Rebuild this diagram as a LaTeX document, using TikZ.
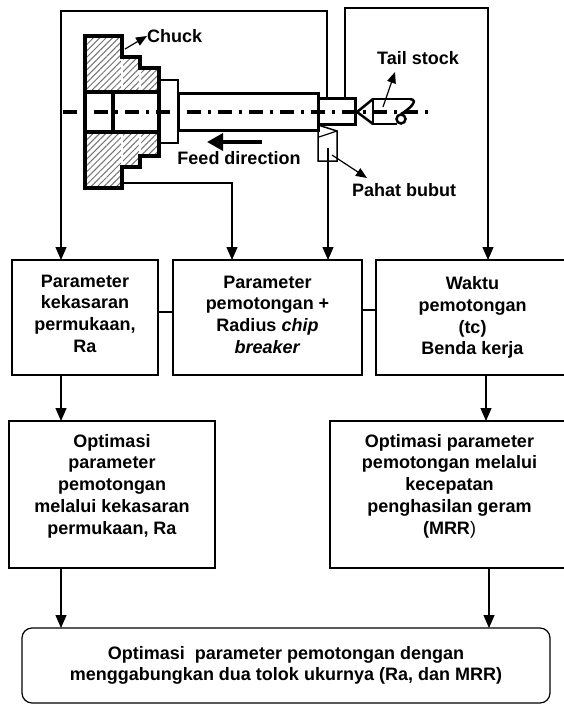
\documentclass[tikz,border=0pt]{standalone}
\usepackage{fontspec}
\setmainfont{Liberation Sans}
\usetikzlibrary{arrows.meta,patterns.meta}
\begin{document}
\begin{tikzpicture}[x=1pt,y=-1pt,
  box/.style={draw,line width=1.2pt,inner sep=0pt,outer sep=0pt,align=center,font=\fontsize{18}{21.7}\selectfont\bfseries},
  txt/.style={inner sep=0pt,align=center,font=\fontsize{18}{21.7}\selectfont\bfseries},
  lbl/.style={inner sep=0pt,font=\fontsize{18}{21.7}\selectfont\bfseries},
  conn/.style={line width=1.2pt},
  arr/.style={line width=1.2pt,-{Triangle[length=13pt,width=11pt]}},
  ptr/.style={line width=1.2pt,-{Triangle[length=11pt,width=9pt]}},
  hatch/.style={pattern={Lines[angle=45,distance=4.5pt,line width=1pt]},pattern color=black!55},
  heavy/.style={line width=3.5pt,line join=miter},
]
\useasboundingbox (0,0) rectangle (564,704);
\clip (0,0) rectangle (564,704);

% chuck
\fill[hatch] (85,36) -- (122,36) -- (122,57) -- (140,57) -- (140,68) -- (159,68) -- (159,92) -- (85,92) -- cycle;
\fill[hatch] (85,132) -- (159,132) -- (159,156) -- (140,156) -- (140,167) -- (122,167) -- (122,188) -- (85,188) -- cycle;
\draw[white,line width=1.5pt] (122,57) -- (122,92) (140,68) -- (140,92) (122,132) -- (122,167) (140,132) -- (140,156);
\draw[heavy] (85,36) -- (122,36) -- (122,57) -- (140,57) -- (140,68) -- (159,68) -- (159,156) -- (140,156) -- (140,167) -- (122,167) -- (122,188) -- (85,188) -- cycle;
\draw[heavy] (85,92) -- (159,92) (85,132) -- (159,132) (113,92) -- (113,132);
% collar, workpiece, spigot
\draw[line width=2.2pt] (159,80) rectangle (178,143);
\draw[line width=3pt] (178,93) rectangle (318,130);
\draw[line width=3pt] (318,98) rectangle (355,124);
% tool
\draw[line width=1.5pt] (318,161) -- (318,125) -- (337,131) -- (337,161) -- cycle;
\draw[line width=1.2pt] (337,131) -- (319,137);
% tail stock
\draw[line width=2.5pt,line join=miter] (373,99) -- (357,112) -- (373,124);
\draw[line width=2.5pt] (410,99) -- (373,99) -- (373,124) -- (397,124);
\draw[line width=2.5pt] (410,99) .. controls (420,100) and (408,110) .. (401,114);
\draw[line width=2.5pt] (401,119) circle (4.5pt);
% centre line
\draw[line width=3.5pt,dash pattern=on 14pt off 7pt on 3pt off 7pt] (63,112) -- (431,112);

% labels
\node[lbl,anchor=west] (chuck) at (147,36) {Chuck};
\node[lbl,anchor=west] (tail) at (377,58) {Tail stock};
\node[lbl] (feed) at (239,158) {Feed direction};
\node[lbl,anchor=west] (pahat) at (352,190) {Pahat bubut};
\coordinate (chuckpt) at (125,49);
\coordinate (tailpt) at (383,107);
\coordinate (tailtip) at (395,72);
\coordinate (toolpt) at (332,155);
\coordinate (pahattip) at (367,178);
\coordinate (feedS) at (262,142);
\coordinate (feedE) at (207,142);
\draw[ptr] (chuckpt) -- (chuck.west);
\draw[ptr] (tailpt) -- (tailtip);
\draw[ptr] (toolpt) -- (pahattip);
\draw[line width=3.5pt,-{Triangle[length=16pt,width=17pt]}] (feedS) -- (feedE);

% boxes
\node[box,minimum width=146pt,minimum height=115pt] (b1) at (85,317.5) {};
\node[txt] (t1) at (85,313.5) {Parameter\\kekasaran\\permukaan,\\Ra};
\node[box,minimum width=189pt,minimum height=115pt] (b2) at (267.5,317.5) {};
\node[txt] (t2) at (267.5,314.5) {Parameter\\pemotongan +\\Radius \textit{chip}\\\textit{breaker}};
\node[box,minimum width=193pt,minimum height=115pt] (b3) at (472.5,317.5) {Waktu\\pemotongan\\(tc)\\Benda kerja};
\node[box,minimum width=206pt,minimum height=147pt] (b4) at (112,494.5) {};
\node[txt] (t4) at (112,486) {Optimasi\\parameter\\pemotongan\\melalui kekasaran\\permukaan, Ra};
\node[box,minimum width=239pt,minimum height=147pt] (b5) at (449.5,494.5) {};
\node[txt] (t5) at (449.5,486) {Optimasi parameter\\pemotongan melalui\\kecepatan\\penghasilan geram\\(MRR{\mdseries)}};
\node[box,rounded corners=10pt,minimum width=528pt,minimum height=75pt,font=\fontsize{18}{20.5}\selectfont\bfseries] (bot) at (286,665.5) {Optimasi\ \ parameter pemotongan dengan\\menggabungkan dua tolok ukurnya (Ra, dan MRR)};

% connectors
\coordinate (wpL) at (327,98);
\coordinate (fL1) at (327,11);
\coordinate (fL2) at (61,11);
\coordinate (wpR) at (345,98);
\coordinate (fR1) at (345,8);
\coordinate (fR2) at (488,8);
\coordinate (chB) at (122,183);
\coordinate (chB2) at (232,183);
\coordinate (toolP) at (328,148);
\coordinate (x486) at (486,0);
\coordinate (x489) at (489,0);
\draw[arr] (wpL) -- (fL1) -- (fL2) -- (fL2 |- b1.north);
\draw[arr] (wpR) -- (fR1) -- (fR2) -- (fR2 |- b3.north);
\draw[arr] (chB) -- (chB2) -- (chB2 |- b2.north);
\draw[arr] (toolP) -- (toolP |- b2.north);
\draw[conn] ([yshift=5.5pt]b1.east) -- ([yshift=5.5pt]b2.west);
\draw[conn] ([yshift=7.5pt]b2.east) -- ([yshift=7.5pt]b3.west);
\draw[arr] (b1.south -| fL2) -- (b4.north -| fL2);
\draw[arr] (b3.south -| x486) -- (b5.north -| x486);
\draw[arr] (b4.south -| fL2) -- (bot.north -| fL2);
\draw[arr] (b5.south -| x489) -- (bot.north -| x489);
\end{tikzpicture}
\end{document}
